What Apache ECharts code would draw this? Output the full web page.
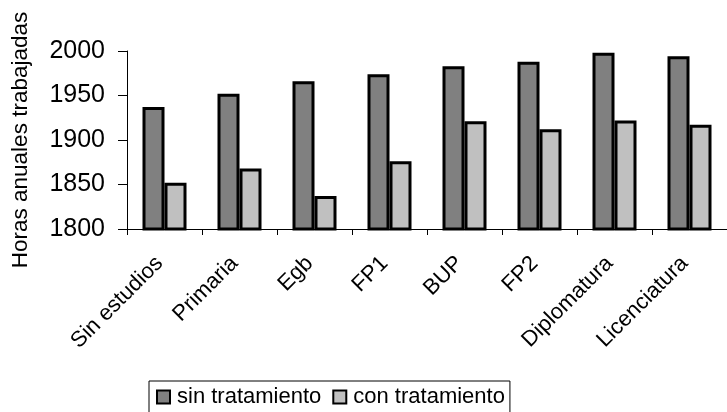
<!DOCTYPE html>
<html>
<head>
<meta charset="utf-8">
<script src="https://cdn.jsdelivr.net/npm/echarts@6/dist/echarts.min.js"></script>
<style>
  html, body { margin: 0; padding: 0; background: #fff; }
  #chart { width: 727px; height: 412px; }
</style>
</head>
<body>
<div id="chart"></div>
<script>
const categories = ['Sin estudios', 'Primaria', 'Egb', 'FP1', 'BUP', 'FP2', 'Diplomatura', 'Licenciatura']
const sinTratamiento = [1937, 1952, 1966, 1974, 1983, 1988, 1998, 1994]
const conTratamiento = [1852, 1868, 1837, 1876, 1921, 1912, 1922, 1917]
const seriesNames = ['sin tratamiento', 'con tratamiento']
const yName = 'Horas anuales trabajadas'

const chart = echarts.init(document.getElementById('chart'))

const font = 'Liberation Sans, Arial, sans-serif'

const option = {
	animation: false,
	textStyle: { fontFamily: font, color: '#000' },
	legend: {
		data: seriesNames,
		left: 149,
		top: 381,
		itemWidth: 13,
		itemHeight: 13,
		itemGap: 11,
		icon: 'rect',
		borderColor: '#000',
		borderWidth: 1,
		borderRadius: 0,
		padding: [5, 5, 5, 7],
		textStyle: { fontSize: 22, color: '#000', fontFamily: font, padding: [0, 0, 0, 2] }
	},
	grid: {
		left: 127,
		top: 51,
		width: 604,
		height: 178
	},
	xAxis: {
		type: 'category',
		data: categories,
		axisLine: { lineStyle: { color: '#000', width: 1 } },
		axisTick: { show: true, length: 6, lineStyle: { color: '#000' } },
		axisLabel: {
			interval: 0,
			rotate: 45,
			fontSize: 22,
			margin: 26,
			padding: [0, 7, 0, 0],
			color: '#000',
			fontFamily: font
		}
	},
	yAxis: {
		type: 'value',
		min: 1800,
		max: 2000,
		interval: 50,
		name: yName,
		nameLocation: 'middle',
		nameGap: 95,
		nameTextStyle: { fontSize: 22.5, color: '#000', fontFamily: font },
		splitLine: { show: false },
		axisLine: { show: true, lineStyle: { color: '#000', width: 1 } },
		axisTick: { show: true, length: 9, lineStyle: { color: '#000' } },
		axisLabel: {
			fontSize: 25,
			margin: 22,
			color: '#000',
			fontFamily: font,
			formatter: (v) => String(v)
		}
	},
	series: [
		{
			name: seriesNames[0],
			type: 'bar',
			data: sinTratamiento,
			barWidth: 22,
			barGap: '0%',
			itemStyle: { color: '#808080', borderColor: '#000', borderWidth: 3 }
		},
		{
			name: seriesNames[1],
			type: 'bar',
			data: conTratamiento,
			barWidth: 22,
			itemStyle: { color: '#c0c0c0', borderColor: '#000', borderWidth: 3 }
		}
	]
}

chart.setOption(option)
</script>
</body>
</html>
